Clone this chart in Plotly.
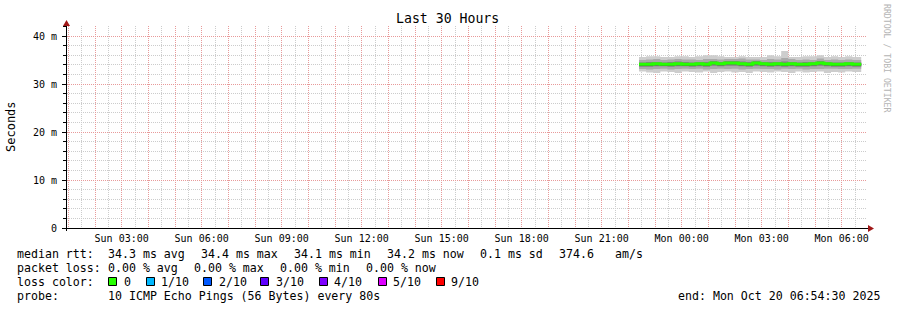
import plotly.graph_objects as go
from datetime import datetime, timedelta

# ---------------- data ----------------
axis_start = "2025-10-19 00:57:00"
axis_end = "2025-10-20 06:57:00"
data_start = "2025-10-19 22:24:00"
data_end = "2025-10-20 06:44:00"
step_minutes = 16

median = [34.1, 34.1, 34.2, 34.1, 34.1, 34.2, 34.1, 34.1, 34.2, 34.1, 34.4, 34.2, 34.4, 34.4, 34.2, 34.1,
          34.4, 34.2, 34.1, 34.2, 34.1, 34.2, 34.1, 34.1, 34.2, 34.4, 34.2, 34.1, 34.1, 34.2, 34.1]
smoke1_lo = [32.6, 32.4, 32.3, 32.6, 32.5, 32.3, 32.6, 32.5, 32.4, 32.6, 32.3, 32.5, 32.6, 32.4, 32.5, 32.3,
             32.6, 32.5, 32.4, 32.6, 32.5, 32.3, 32.6, 32.4, 32.5, 32.6, 32.3, 32.5, 32.4, 32.6, 32.5]
smoke1_hi = [35.6, 35.8, 35.8, 35.6, 35.6, 35.8, 35.8, 35.6, 35.8, 36.0, 36.0, 35.8, 35.6, 35.6, 35.8, 35.6,
             35.6, 35.6, 36.0, 35.8, 36.9, 35.6, 35.6, 35.8, 35.8, 36.0, 35.6, 35.8, 35.6, 35.8, 35.6]
smoke2_lo = [33.1, 33.0, 33.1, 33.2, 33.0, 33.1, 33.2, 33.1, 33.2, 33.0, 33.1, 33.2, 33.1, 33.2, 33.0, 33.1,
             33.2, 33.1, 33.1, 33.0, 33.2, 33.1, 33.2, 33.0, 33.1, 33.1, 33.2, 33.2, 33.1, 33.1, 33.2]
smoke2_hi = [35.0, 35.1, 35.2, 35.0, 35.1, 35.2, 35.1, 35.1, 35.0, 35.2, 35.2, 35.1, 35.2, 35.2, 35.3, 35.1,
             35.1, 35.0, 35.2, 35.1, 35.4, 35.2, 35.0, 35.1, 35.0, 35.3, 35.0, 35.1, 35.0, 35.1, 35.0]
smoke3_lo = [33.6, 33.6, 33.7, 33.7, 33.6, 33.7, 33.7, 33.6, 33.7, 33.6, 33.8, 33.7, 33.8, 33.8, 33.7, 33.6,
             33.8, 33.7, 33.6, 33.7, 33.6, 33.7, 33.6, 33.6, 33.7, 33.8, 33.7, 33.6, 33.6, 33.7, 33.6]
smoke3_hi = [34.5, 34.6, 34.6, 34.5, 34.6, 34.7, 34.6, 34.5, 34.6, 34.6, 34.8, 34.6, 34.8, 34.8, 34.7, 34.6,
             34.8, 34.6, 34.6, 34.6, 34.7, 34.6, 34.5, 34.6, 34.6, 34.8, 34.6, 34.5, 34.5, 34.6, 34.5]
smoke4_lo = [33.8, 33.8, 33.9, 33.8, 33.8, 33.9, 33.8, 33.8, 33.9, 33.8, 34.1, 33.9, 34.1, 34.1, 33.9, 33.8,
             34.1, 33.9, 33.8, 33.9, 33.8, 33.9, 33.8, 33.8, 33.9, 34.1, 33.9, 33.8, 33.8, 33.9, 33.8]
smoke4_hi = [34.3, 34.3, 34.4, 34.3, 34.3, 34.4, 34.3, 34.3, 34.4, 34.3, 34.6, 34.4, 34.6, 34.6, 34.4, 34.3,
             34.6, 34.4, 34.3, 34.4, 34.3, 34.4, 34.3, 34.3, 34.4, 34.6, 34.4, 34.3, 34.3, 34.4, 34.3]

smoke_colors = ["#cdcdcd", "#a9a9a9", "#808080", "#404040"]

y_ticks = [0, 10, 20, 30, 40]
y_ticktext = ["0", "10 m", "20 m", "30 m", "40 m"]
x_labels = {"2025-10-19 03:00": "Sun 03:00", "2025-10-19 06:00": "Sun 06:00", "2025-10-19 09:00": "Sun 09:00",
            "2025-10-19 12:00": "Sun 12:00", "2025-10-19 15:00": "Sun 15:00", "2025-10-19 18:00": "Sun 18:00",
            "2025-10-19 21:00": "Sun 21:00", "2025-10-20 00:00": "Mon 00:00", "2025-10-20 03:00": "Mon 03:00",
            "2025-10-20 06:00": "Mon 06:00"}

loss_labels = ["0", "1/10", "2/10", "3/10", "4/10", "5/10", "9/10"]
loss_colors = ["#26ff00", "#00b8ff", "#0059ff", "#5e00ff", "#7e00ff", "#dd00ff", "#ff0000"]

title_text = "Last 30 Hours"
y_title = "Seconds"
rtt_items = ["median rtt:", "34.3 ms avg", "34.4 ms max", "34.1 ms min", "34.2 ms now", "0.1 ms sd", "374.6", "am/s"]
loss_items = ["packet loss:", "0.00 % avg", "0.00 % max", "0.00 % min", "0.00 % now"]
probe_items = ["probe:", "10 ICMP Echo Pings (56 Bytes) every 80s"]
end_text = "end: Mon Oct 20 06:54:30 2025"
watermark = "RRDTOOL / TOBI OETIKER"

# ---------------- geometry (pixels) ----------------
W, H = 897, 310
L, R, T, B = 67, 867, 26, 228
Y_MAX = (B - T) / 4.8
MONO = "DejaVu Sans Mono"
GRID_GRAY = "#cccccc"
GRID_RED = "#e89a9a"


def px(x):
    return (x - L) / (R - L)


def py(y):
    return (B - y) / (B - T)


fmt = "%Y-%m-%d %H:%M:%S"
t0 = datetime.strptime(data_start, fmt)
xs = [t0 + timedelta(minutes=step_minutes * i) for i in range(len(median))] + [datetime.strptime(data_end, fmt)]


def ext(v):
    return list(v) + [v[-1]]


fig = go.Figure()
layers = [(smoke1_lo, smoke1_hi), (smoke2_lo, smoke2_hi), (smoke3_lo, smoke3_hi), (smoke4_lo, smoke4_hi)]
for (lo, hi), col in zip(layers, smoke_colors):
    fig.add_trace(go.Scatter(x=xs, y=ext(lo), mode="lines", line=dict(width=0, shape="hv"),
                             showlegend=False, hoverinfo="skip"))
    fig.add_trace(go.Scatter(x=xs, y=ext(hi), mode="lines", line=dict(width=0, shape="hv"),
                             fill="tonexty", fillcolor=col, showlegend=False, hoverinfo="skip"))
fig.add_trace(go.Scatter(x=xs, y=ext(median), mode="lines",
                         line=dict(width=3, shape="hv", color=loss_colors[0]),
                         showlegend=False, hoverinfo="skip"))

# hourly major grid (labels every 3 hours)
ax1 = datetime.strptime(axis_end, fmt)
hour_vals, hour_text = [], []
t = datetime(2025, 10, 19, 1, 0)
while t <= ax1:
    key = t.strftime("%Y-%m-%d %H:%M")
    hour_vals.append(key)
    hour_text.append(x_labels.get(key, ""))
    t += timedelta(hours=1)

shapes = []
# axes lines and arrows
shapes.append(dict(type="line", xref="paper", yref="paper", x0=px(62), x1=px(869), y0=py(228.5), y1=py(228.5),
                   layer="above", line=dict(color="#000000", width=1)))
shapes.append(dict(type="line", xref="paper", yref="paper", x0=px(66.5), x1=px(66.5), y0=py(231), y1=py(24),
                   layer="above", line=dict(color="#000000", width=1)))
shapes.append(dict(type="path", xref="paper", yref="paper", layer="above",
                   path=f"M {px(868)} {py(225)} L {px(874)} {py(228.5)} L {px(868)} {py(232)} Z",
                   fillcolor="#a01818", line=dict(width=0)))
shapes.append(dict(type="path", xref="paper", yref="paper", layer="above",
                   path=f"M {px(63)} {py(26)} L {px(66.5)} {py(20)} L {px(70)} {py(26)} Z",
                   fillcolor="#a01818", line=dict(width=0)))

# loss colour boxes
box_x = [108, 146, 203, 260, 319, 378, 436]
lab_x = [123, 160, 218, 275, 333, 392, 450]
for bx, col in zip(box_x, loss_colors):
    shapes.append(dict(type="rect", xref="paper", yref="paper", x0=px(bx + 0.5), x1=px(bx + 8.5),
                       y0=py(285.5), y1=py(277.5), fillcolor=col, line=dict(color="#000000", width=1)))

ann = []


def text(x, y, s, size=11.6, anchor="left", color="#000000", family=MONO, angle=0):
    ann.append(dict(x=px(x), y=py(y), xref="paper", yref="paper", text=s, showarrow=False,
                    xanchor=anchor, yanchor="middle", textangle=angle, borderpad=0,
                    font=dict(family=family, size=size, color=color)))


rtt_x = [16, 107, 200, 293, 386, 479, 558, 614]
for xx, s in zip(rtt_x, rtt_items):
    text(xx, 254, s)
loss_x = [16, 107, 193, 279, 365]
for xx, s in zip(loss_x, loss_items):
    text(xx, 268, s)
text(16, 282, "loss color:")
for xx, s in zip(lab_x, loss_labels):
    text(xx, 282, s)
text(16, 296, probe_items[0])
text(107, 296, probe_items[1])
text(881, 296, end_text, anchor="right")

text(447.5, 19, title_text, size=13.2, anchor="center")
text(11, 126, y_title, size=12, anchor="center", angle=-90)
text(887, 59, watermark, size=8.2, anchor="center", color="#b4b4b4", angle=90)

fig.update_layout(
    width=W, height=H,
    margin=dict(l=L, r=W - R, t=T, b=H - B, pad=0),
    paper_bgcolor="#ffffff", plot_bgcolor="#ffffff",
    showlegend=False, shapes=shapes, annotations=ann,
    xaxis=dict(type="date", range=[axis_start, axis_end], tickmode="array", tickvals=hour_vals,
               ticktext=hour_text, showgrid=True, gridcolor=GRID_RED, gridwidth=1, griddash="1px,1px",
               minor=dict(dtick=1800000, tick0="2025-10-19 00:30", showgrid=True, gridcolor=GRID_GRAY,
                          gridwidth=1, griddash="1px,1px", ticks=""),
               zeroline=False, showline=False, ticks="",
               tickfont=dict(family=MONO, size=10, color="#000000"), ticklabelstandoff=3),
    yaxis=dict(range=[0, Y_MAX], tickmode="array", tickvals=y_ticks, ticktext=y_ticktext,
               showgrid=True, gridcolor=GRID_RED, gridwidth=1, griddash="1px,1px",
               zeroline=False, showline=False, ticks="outside", ticklen=4, tickcolor="#000000",
               minor=dict(ticks="outside", ticklen=3, dtick=2, tick0=0, tickcolor="#000000", showgrid=True,
                          gridcolor=GRID_GRAY, gridwidth=1, griddash="1px,1px"),
               tickfont=dict(family=MONO, size=10, color="#000000"), ticklabelstandoff=3),
)

fig.write_html("out.html")
